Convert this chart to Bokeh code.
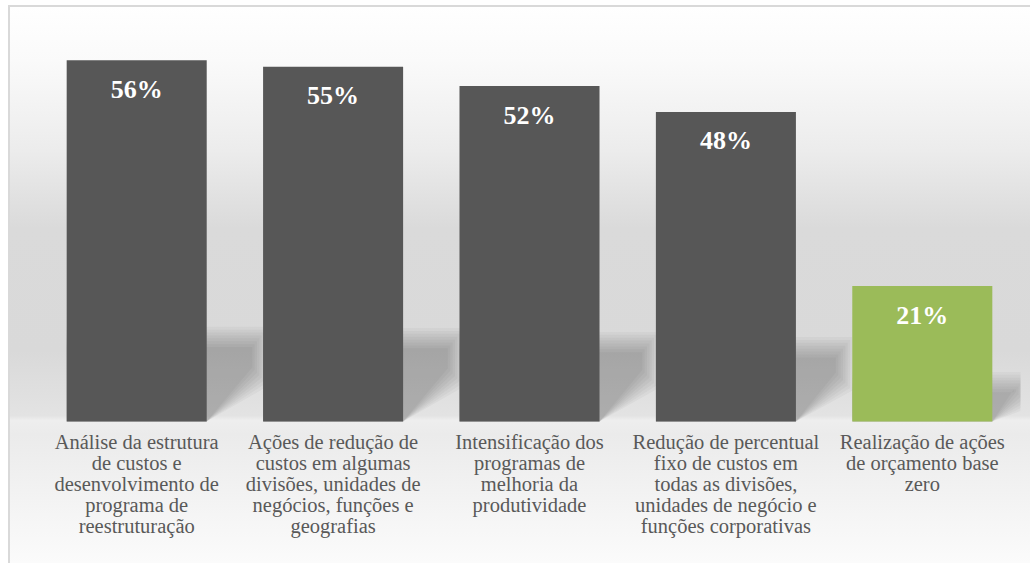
from bokeh.plotting import figure
from bokeh.layouts import column
from bokeh.models import Range1d
from bokeh.core.properties import value
from bokeh.embed import file_html
from bokeh.resources import INLINE

categories = [
    "Análise da estrutura\nde custos e\ndesenvolvimento de\nprograma de\nreestruturação",
    "Ações de redução de\ncustos em algumas\ndivisões, unidades de\nnegócios, funções e\ngeografias",
    "Intensificação dos\nprogramas de\nmelhoria da\nprodutividade",
    "Redução de percentual\nfixo de custos em\ntodas as divisões,\nunidades de negócio e\nfunções corporativas",
    "Realização de ações\nde orçamento base\nzero",
]
values = [56, 55, 52, 48, 21]
value_labels = ["56%", "55%", "52%", "48%", "21%"]
bar_colors = ["#575757", "#575757", "#575757", "#575757", "#9BBB59"]

xs = list(range(len(values)))
BAR_W = 0.713
F = value("Liberation Serif")

p = figure(width=1022, height=558, output_backend="svg", toolbar_location=None,
           x_range=Range1d(-0.5, len(values) - 0.5), y_range=Range1d(-22.0, 60),
           min_border_left=30, min_border_right=10, min_border_top=29, min_border_bottom=0,
           background_fill_color=None, border_fill_color=None, outline_line_color=None)
p.margin = (5, 0, 0, 8)
p.styles = {
    "background": "linear-gradient(to bottom, #ffffff 0%, #fafafa 10%, #ececec 26%, #dadada 40%, "
                  "#d9d9d9 62%, #e3e3e3 73.6%, #eeeeee 74.4%, #ebebeb 77%, #fbfbfb 100%)",
    "box-shadow": "inset 2px 2px 0 #d9d9d9",
}
p.axis.visible = False
p.grid.visible = False

# soft perspective shadows derived from bar values
for k in range(8):
    xs_list, ys_list = [], []
    for x, v in zip(xs, values):
        base_top = 0.2 * v + 2.5
        top_s = base_top + 1.0 - k * 0.45
        dx = 0.0035 * v + 0.12 - k * 0.012
        dy = 0.48 * base_top - 1.0 + k * 0.4
        x0 = x - BAR_W / 2
        x1 = x + BAR_W / 2
        xs_list.append([x0, x1, x1 + dx, x1 + dx, x0])
        ys_list.append([0, 0, dy, top_s, top_s])
    p.patches(xs_list, ys_list, fill_color="black", fill_alpha=0.03, line_color=None)

p.vbar(x=xs, top=values, bottom=0, width=BAR_W, fill_color=bar_colors, line_color=None)

for x, v, lab in zip(xs, values, value_labels):
    p.text(x=[x], y=[v], text=[lab], text_font=F, text_font_size="26px",
           text_font_style="bold", text_color="#ffffff", text_align="center",
           text_baseline="alphabetic", y_offset=29)

for x, cat in zip(xs, categories):
    p.text(x=[x], y=[0], text=[cat], text_font=F, text_font_size="20.5px",
           text_color="#595959", text_align="center", text_baseline="top",
           y_offset=9, text_line_height=0.96)

open("out.html", "w").write(file_html(column(p), INLINE))
